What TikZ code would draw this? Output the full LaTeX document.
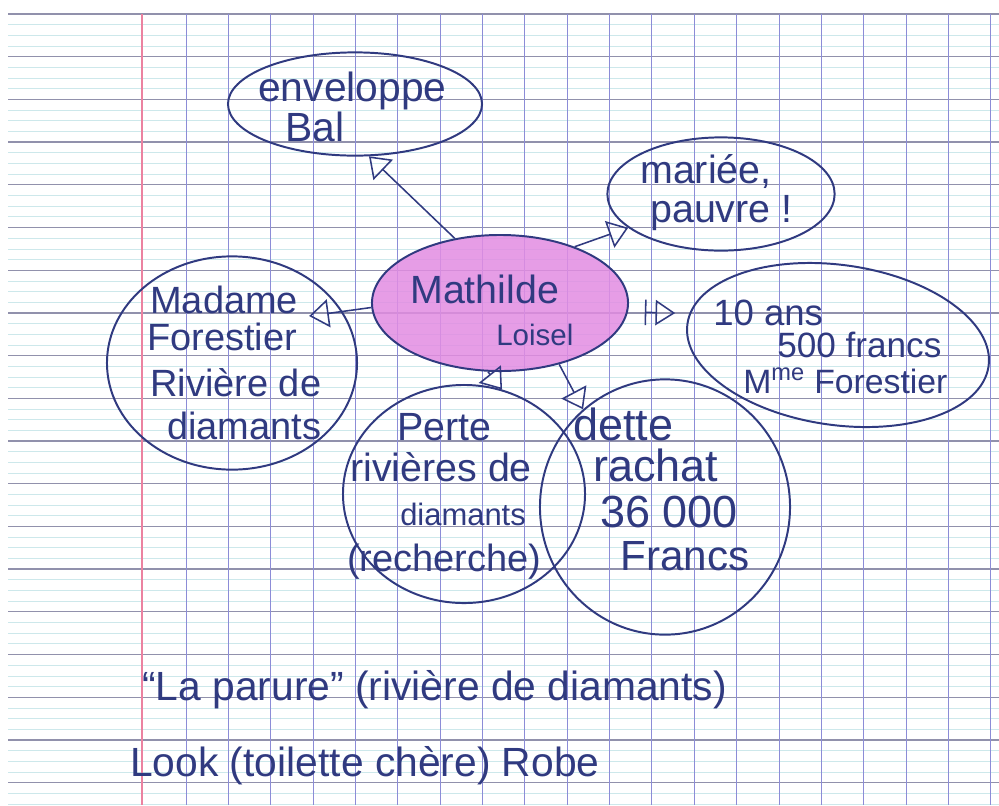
\documentclass[tikz,border=0pt]{standalone}
\usepackage{fontspec}
\setmainfont{Liberation Sans}
\usetikzlibrary{shapes.geometric,arrows.meta}
\definecolor{ink}{RGB}{48,58,128}
\definecolor{pinkfill}{RGB}{226,140,226}
\definecolor{gmajor}{RGB}{145,145,172}
\definecolor{gminor}{RGB}{205,232,235}
\definecolor{gvert}{RGB}{140,140,215}
\definecolor{gred}{RGB}{235,130,160}
\begin{document}
\begin{tikzpicture}[x=0.025cm,y=-0.025cm,
  bubble/.style={draw=ink, line width=1.4pt, ellipse, inner sep=0pt},
  hand/.style={text=ink, inner sep=0pt, anchor=base west},
  fs/.style={font=\fontsize{#1}{#1}\selectfont},
  link/.style={draw=ink, line width=1.1pt, -{Triangle[open,length=14pt,width=20pt,line width=1.1pt]}},
  barlink/.style={draw=ink, line width=1.1pt, {Bar[width=18pt,line width=1.1pt]}-{Triangle[open,length=14pt,width=18pt,line width=1.1pt]}},
]
\useasboundingbox (0,0) rectangle (999,805);
\fill[white] (0,0) rectangle (999,805);
% squared paper
\begin{scope}
\clip (8,8) rectangle (999,805);
\foreach \k in {0,...,75} \draw[gminor, line width=0.5pt] (8,{14+\k*10.675}) -- (999,{14+\k*10.675});
\foreach \k in {0,...,18} \draw[gmajor, line width=0.9pt] (8,{14+\k*42.7}) -- (999,{14+\k*42.7});
\foreach \k in {0,...,19} \draw[gvert, line width=0.55pt] ({186+\k*42.35},14) -- ({186+\k*42.35},805);
\draw[gred, line width=0.8pt] (142,14) -- (142,805);
\end{scope}

% bubbles
\node[bubble, minimum width=6.35cm, minimum height=2.58cm] (env) at (355,104) {};
\node[bubble, minimum width=5.68cm, minimum height=2.83cm] (mar) at (721,194) {};
\node[bubble, fill=pinkfill, fill opacity=0.85, minimum width=6.4cm, minimum height=3.4cm] (mat) at (500,303) {};
\node[bubble, minimum width=6.25cm, minimum height=5.33cm] (mad) at (232,363) {};
\node[bubble, minimum width=7.6cm, minimum height=4.0cm, rotate=-8] (ans) at (838,345) {};
\node[bubble, minimum width=6.05cm, minimum height=5.45cm] (per) at (464,494) {};
\node[bubble, minimum width=6.25cm, minimum height=6.38cm] (det) at (665,507) {};

% connectors
\draw[link] (mat.125) -- (env.285);
\draw[link] (mat.37) -- (mar.200);
\draw[link, shorten >=-24pt] (mat.182) -- (mad.25);
\draw[barlink, shorten <=12pt, shorten >=10pt] (mat.356) -- (ans.176);
\draw[link] (mat.260) -- (per.70);
\draw[link] (mat.314) -- (det.130);

% texts
\node[hand, fs=29] (envA) at (258,101) {enveloppe};
\node[hand, fs=29] (envB) at (285,141) {Bal};
\node[hand, fs=28] (marA) at (640,183) {mariée,};
\node[hand, fs=28] (marB) at (650,222) {pauvre !};
\node[hand, fs=28] (matA) at (410,303) {Mathilde};
\node[hand, fs=21] (matB) at (496,345) {Loisel};
\node[hand, fs=27] (madA) at (150,313) {Madame};
\node[hand, fs=27] (madB) at (147,350) {Forestier};
\node[hand, fs=27] (madC) at (150,396) {Rivière de};
\node[hand, fs=27] (madD) at (167,439) {diamants};
\node[hand, fs=26] (ansA) at (713,325) {10 ans};
\node[hand, fs=25] (ansB) at (777,357) {500 francs};
\node[hand, fs=24] (ansC) at (743,393) {M\textsuperscript{me} Forestier};
\node[hand, fs=28] (perA) at (397,440) {Perte};
\node[hand, fs=28] (perB) at (350,481) {rivières de};
\node[hand, fs=22] (perC) at (400,525) {diamants};
\node[hand, fs=27] (perD) at (347,571) {(recherche)};
\node[hand, fs=32] (detA) at (573,440) {dette};
\node[hand, fs=32] (detB) at (593,481) {rachat};
\node[hand, fs=32] (detC) at (600,527) {36 000};
\node[hand, fs=30] (detD) at (620,570) {Francs};
\node[hand, fs=29] (botA) at (142,700) {“La parure” (rivière de diamants)};
\node[hand, fs=29] (botB) at (130,776) {Look (toilette chère) Robe};
\end{tikzpicture}
\end{document}
